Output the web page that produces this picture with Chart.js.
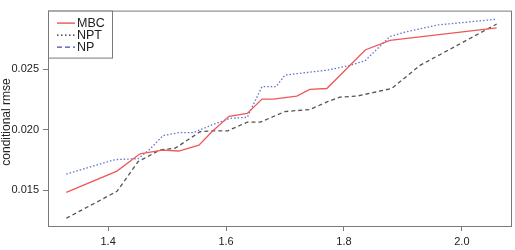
<!DOCTYPE html>
<html>
<head>
<meta charset="utf-8">
<script src="https://cdn.jsdelivr.net/npm/chart.js@4.4.1/dist/chart.umd.min.js"></script>
<style>
  html, body { margin: 0; padding: 0; background: #fff; }
</style>
</head>
<body>
<canvas id="chart" width="515" height="250"></canvas>
<script>
// values
const mbcX = [1.329, 1.415, 1.454, 1.492, 1.520, 1.554, 1.576, 1.605, 1.636, 1.661, 1.680, 1.720, 1.742, 1.771, 1.836, 1.878, 2.059];
const mbcY = [0.01484, 0.01659, 0.01802, 0.01833, 0.01825, 0.01873, 0.01984, 0.02111, 0.02135, 0.02254, 0.02254, 0.02278, 0.02333, 0.02341, 0.02659, 0.02738, 0.02841];

const nptX = [1.329, 1.415, 1.451, 1.488, 1.514, 1.556, 1.576, 1.603, 1.636, 1.658, 1.700, 1.742, 1.771, 1.793, 1.822, 1.881, 1.929, 2.059];
const nptY = [0.01270, 0.01492, 0.01738, 0.01833, 0.01849, 0.01984, 0.01992, 0.01992, 0.02063, 0.02063, 0.02151, 0.02167, 0.02230, 0.02270, 0.02278, 0.02341, 0.02532, 0.02873];

const npX = [1.329, 1.412, 1.451, 1.471, 1.493, 1.519, 1.544, 1.576, 1.607, 1.636, 1.661, 1.685, 1.700, 1.771, 1.810, 1.836, 1.878, 1.900, 1.958, 2.059];
const npY = [0.01635, 0.01754, 0.01762, 0.01841, 0.01952, 0.01976, 0.01976, 0.02040, 0.02095, 0.02103, 0.02357, 0.02357, 0.02452, 0.02492, 0.02532, 0.02571, 0.02770, 0.02802, 0.02865, 0.02913];

const xTicks = [1.4, 1.6, 1.8, 2.0];
const yTicks = [0.015, 0.020, 0.025];
const legendNames = ["MBC", "NPT", "NP"];
const yTitle = "conditional rmse";

const font = "'Liberation Sans', Arial, sans-serif";
const frameColor = '#7a7a7a';

function pts(xs, ys) {
    return xs.map((x, i) => ({ x: x, y: ys[i] }));
}

// box round the plot, the y title and the boxed legend in the top left corner
const framePlugin = {
    id: 'frame',
    afterDraw(chart) {
        const ctx = chart.ctx;
        const a = chart.chartArea;
        ctx.save();
        ctx.strokeStyle = frameColor;
        ctx.lineWidth = 1;
        ctx.strokeRect(a.left + 0.5, a.top + 0.5, a.right - a.left - 1, a.bottom - a.top);

        // y title, sits a bit below the middle like the original
        ctx.save();
        ctx.translate(7, 122);
        ctx.rotate(-Math.PI / 2);
        ctx.font = '12px ' + font;
        ctx.fillStyle = '#222';
        ctx.textAlign = 'center';
        ctx.textBaseline = 'middle';
        ctx.fillText(yTitle, 0, 0);
        ctx.restore();

        // legend
        const bx = a.left + 0.5, by = a.top + 0.5, bw = 64, bh = 47;
        ctx.fillStyle = '#fff';
        ctx.fillRect(bx, by, bw, bh);
        ctx.strokeRect(bx, by, bw, bh);

        const styles = [
            { color: '#e84a4a', dash: [] },
            { color: '#222', dash: [1.5, 2.5] },
            { color: '#4050b0', dash: [5, 3] }
        ];
        ctx.font = '12.5px ' + font;
        ctx.textBaseline = 'middle';
        legendNames.forEach((name, i) => {
            const y = a.top + 12 + i * 12;
            ctx.strokeStyle = styles[i].color;
            ctx.setLineDash(styles[i].dash);
            ctx.lineWidth = 1.3;
            ctx.beginPath();
            ctx.moveTo(a.left + 9, y + 0.5);
            ctx.lineTo(a.left + 27, y + 0.5);
            ctx.stroke();
            ctx.setLineDash([]);
            ctx.fillStyle = '#222';
            ctx.fillText(name, a.left + 29, y + 1);
        });
        ctx.restore();
    }
};

new Chart(document.getElementById('chart'), {
    type: 'line',
    data: {
        datasets: [
            {
                label: 'MBC',
                data: pts(mbcX, mbcY),
                borderColor: '#ee5858',
                borderWidth: 1.3
            },
            {
                label: 'NPT',
                data: pts(nptX, nptY),
                borderColor: '#555',
                borderDash: [4, 3],
                borderWidth: 1.3
            },
            {
                label: 'NP',
                data: pts(npX, npY),
                borderColor: '#6272cc',
                borderDash: [1.5, 2],
                borderWidth: 1.3
            }
        ]
    },
    options: {
        responsive: false,
        animation: false,
        layout: { padding: { top: 2, right: 3, left: 0, bottom: 0 } },
        elements: { point: { radius: 0 }, line: { tension: 0 } },
        plugins: {
            legend: { display: false },
            tooltip: { enabled: false }
        },
        scales: {
            x: {
                type: 'linear',
                min: 1.298,
                max: 2.085,
                afterBuildTicks: s => { s.ticks = xTicks.map(v => ({ value: v })); },
                afterFit: s => { s.height = 24; },
                border: { display: false },
                grid: { drawOnChartArea: false, drawTicks: true, tickLength: 5, color: frameColor },
                ticks: {
                    font: { family: font, size: 11 },
                    color: '#222',
                    padding: 4,
                    maxRotation: 0,
                    callback: v => v.toFixed(1)
                }
            },
            y: {
                min: 0.01206,
                max: 0.02984,
                afterBuildTicks: s => { s.ticks = yTicks.map(v => ({ value: v })); },
                afterFit: s => { s.width = 48; },
                border: { display: false },
                grid: { drawOnChartArea: false, drawTicks: true, tickLength: 5, color: frameColor },
                ticks: {
                    font: { family: font, size: 11 },
                    color: '#222',
                    padding: 4,
                    callback: v => v.toFixed(3)
                }
            }
        }
    },
    plugins: [framePlugin]
});
</script>
</body>
</html>
